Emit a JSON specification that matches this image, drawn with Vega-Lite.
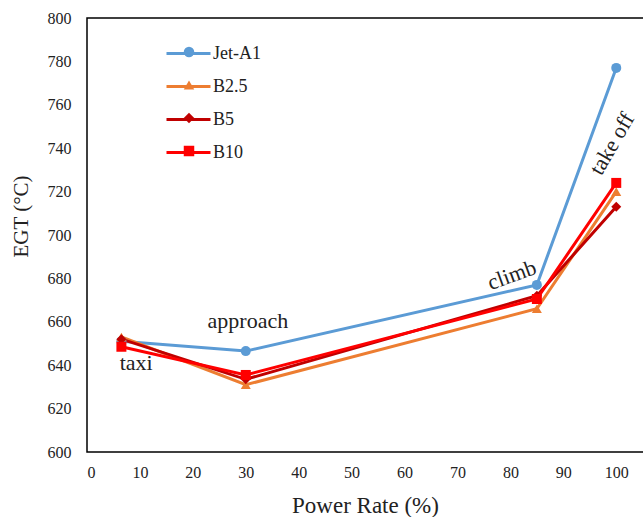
{
  "$schema": "https://vega.github.io/schema/vega-lite/v6.json",
  "width": 561,
  "height": 434,
  "autosize": {"type": "none"},
  "padding": {"left": 87, "top": 18, "right": 0, "bottom": 65},
  "background": "white",
  "config": {
    "view": {"stroke": "#000", "strokeWidth": 1.5},
    "font": "Liberation Serif",
    "axis": {"grid": false, "ticks": false, "domain": false, "labelFont": "Liberation Serif", "labelFontSize": 16, "labelColor": "#222", "titleFont": "Liberation Serif", "titleFontSize": 21, "titleFontWeight": "normal", "titleColor": "#222"}
  },
  "data": {
    "values": [
      {"fuel": "Jet-A1", "power": 6.5, "egt": 651},
      {"fuel": "Jet-A1", "power": 30, "egt": 646.5},
      {"fuel": "Jet-A1", "power": 85, "egt": 677},
      {"fuel": "Jet-A1", "power": 100, "egt": 777},
      {"fuel": "B2.5", "power": 6.5, "egt": 653},
      {"fuel": "B2.5", "power": 30, "egt": 631},
      {"fuel": "B2.5", "power": 85, "egt": 666},
      {"fuel": "B2.5", "power": 100, "egt": 720},
      {"fuel": "B5", "power": 6.5, "egt": 652},
      {"fuel": "B5", "power": 30, "egt": 633.5},
      {"fuel": "B5", "power": 85, "egt": 672},
      {"fuel": "B5", "power": 100, "egt": 713},
      {"fuel": "B10", "power": 6.5, "egt": 648.5},
      {"fuel": "B10", "power": 30, "egt": 635.5},
      {"fuel": "B10", "power": 85, "egt": 670.5},
      {"fuel": "B10", "power": 100, "egt": 724}
    ]
  },
  "layer": [
    {
      "mark": {"type": "line", "strokeWidth": 3},
      "encoding": {
        "x": {"field": "power", "type": "quantitative", "scale": {"domain": [0, 106], "nice": false}, "axis": {"values": [0, 10, 20, 30, 40, 50, 60, 70, 80, 90, 100], "labelPadding": 12, "title": "Power Rate (%)", "titleFontSize": 23, "titleX": 278, "titleY": 53, "titleBaseline": "middle"}},
        "y": {"field": "egt", "type": "quantitative", "scale": {"domain": [600, 800], "nice": false, "zero": false}, "axis": {"values": [600, 620, 640, 660, 680, 700, 720, 740, 760, 780, 800], "labelPadding": 16, "title": "EGT (°C)", "titleX": -66, "titleY": 198, "titleBaseline": "middle"}},
        "color": {"field": "fuel", "type": "nominal", "scale": {"domain": ["Jet-A1", "B2.5", "B5", "B10"], "range": ["#5B9BD5", "#ED7D31", "#C00000", "#FF0000"]},
          "legend": {"title": null, "orient": "none", "legendX": 78, "legendY": 12, "symbolType": "stroke", "symbolSize": 1936, "symbolStrokeWidth": 3, "labelFont": "Liberation Serif", "labelFontSize": 18, "labelColor": "#222", "labelOffset": 1, "rowPadding": -11, "padding": 0}}
      }
    },
    {
      "mark": {"type": "point", "filled": true, "opacity": 1, "size": 100, "strokeWidth": 0},
      "encoding": {
        "x": {"field": "power", "type": "quantitative"},
        "y": {"field": "egt", "type": "quantitative"},
        "fill": {"field": "fuel", "type": "nominal", "scale": {"domain": ["Jet-A1", "B2.5", "B5", "B10"], "range": ["#5B9BD5", "#ED7D31", "#C00000", "#FF0000"]},
          "legend": {"title": null, "orient": "none", "legendX": 78, "legendY": 25, "symbolOffset": 15, "symbolSize": 110, "symbolStrokeWidth": 0, "labelExpr": "''", "labelFontSize": 18, "labelOffset": 0, "rowPadding": 15, "padding": 0}},
        "shape": {"field": "fuel", "type": "nominal", "scale": {"domain": ["Jet-A1", "B2.5", "B5", "B10"], "range": ["circle", "triangle-up", "diamond", "square"]},
          "legend": {"title": null, "orient": "none", "legendX": 78, "legendY": 25, "symbolOffset": 15, "symbolSize": 110, "symbolStrokeWidth": 0, "labelExpr": "''", "labelFontSize": 18, "labelOffset": 0, "rowPadding": 15, "padding": 0}}
      }
    },
    {
      "data": {"values": [{"label": "taxi", "power": 9.3, "egt": 641}, {"label": "approach", "power": 30.4, "egt": 660.5}]},
      "mark": {"type": "text", "font": "Liberation Serif", "fontSize": 22, "color": "#222", "baseline": "middle"},
      "encoding": {"x": {"field": "power", "type": "quantitative"}, "y": {"field": "egt", "type": "quantitative"}, "text": {"field": "label"}}
    },
    {
      "data": {"values": [{"label": "climb", "power": 80.3, "egt": 681.5}]},
      "mark": {"type": "text", "font": "Liberation Serif", "fontSize": 22, "color": "#222", "baseline": "middle", "angle": -20},
      "encoding": {"x": {"field": "power", "type": "quantitative"}, "y": {"field": "egt", "type": "quantitative"}, "text": {"field": "label"}}
    },
    {
      "data": {"values": [{"label": "take off", "power": 99.2, "egt": 742}]},
      "mark": {"type": "text", "font": "Liberation Serif", "fontSize": 22, "color": "#222", "baseline": "middle", "angle": -60},
      "encoding": {"x": {"field": "power", "type": "quantitative"}, "y": {"field": "egt", "type": "quantitative"}, "text": {"field": "label"}}
    }
  ],
  "resolve": {"legend": {"color": "independent"}}
}
